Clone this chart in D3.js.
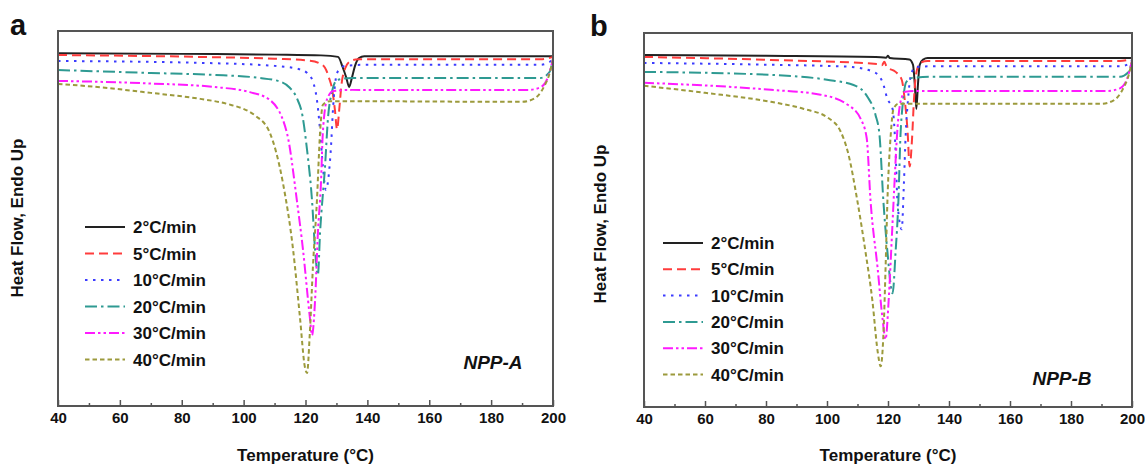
<!DOCTYPE html>
<html>
<head>
<meta charset="utf-8">
<script src="https://cdn.jsdelivr.net/npm/d3@7/dist/d3.min.js"></script>
<style>
body { margin: 0; background: #fff; }
text { font-family: "Liberation Sans", Arial, sans-serif; font-weight: bold; fill: #111; }
</style>
</head>
<body>
<svg id="chart" width="1145" height="465"></svg>
<script>
// ticks and labels
var majorTicks = [40, 60, 80, 100, 120, 140, 160, 180, 200];
var minorTicks = [50, 70, 90, 110, 130, 150, 170, 190];
var rateLabels = ["2", "5", "10", "20", "30", "40"];

// NPP-A, [temperature C, heat flow a.u.]
var a2 = [[40,94.1],[80,93.9],[110,93.7],[125,93.5],[130.5,93.1],[132,90.4],[133.2,87.5],[134.1,85.1],[135,87.5],[136,90.7],[137.3,92.8],[139,93.3],[200,93.3]];
var a5 = [[40,93.6],[85,93.1],[110,92.6],[121.4,92.1],[124.5,91.4],[126.3,90.2],[127.6,87.5],[128.6,84.5],[129.5,79],[130.2,73.8],[130.9,79],[131.6,85.5],[132.8,90.0],[134.4,91.9],[137,92.5],[196,92.5],[200,93.1]];
var a10 = [[40,92.0],[86,91.5],[110,90.7],[118,89.8],[120.5,88.8],[122.4,86.5],[123.7,81.6],[124.7,73.6],[125.6,64.0],[126.6,57.6],[127.5,61.5],[128.3,70.0],[128.8,78.0],[129.5,85.5],[130.5,89.3],[132.8,90.7],[140,91.0],[196,91.0],[199,91.8],[200,92.8]];
var a20 = [[40,89.6],[70,88.8],[90,88.3],[105,87.5],[111.8,86.5],[115,84.8],[117.2,82.1],[119,77.5],[120.5,68.3],[122.1,54.9],[123.1,41.6],[124,34.9],[124.7,46.1],[126.3,63.7],[127.3,77.1],[128.5,83.5],[130.2,86.9],[135,87.5],[196,87.5],[198.8,89.0],[200,92.5]];
var a30 = [[40,86.7],[70,86.0],[90,85.1],[102,83.7],[108.5,81.6],[114,72.8],[117.2,54.9],[119.2,41.6],[121.4,23.7],[122.1,18.9],[123.1,28.3],[124,46.1],[125,59.5],[125.6,72.8],[127,81.9],[129,84.0],[135,84.3],[192,84.3],[196,85.0],[198.5,88.0],[200,92.5]];
var a40 = [[40,85.9],[53.6,85.0],[70,83.5],[86,81.9],[95,80.5],[102,78.4],[104,77.3],[108.5,72.8],[112.7,59.5],[116,41.6],[118.2,23.7],[119.8,10.4],[120.5,8.8],[121.4,19.5],[122.4,37.1],[123.7,54.9],[124.7,72.8],[125.6,80.3],[127.9,81.3],[190,81.1],[194,82.0],[197,85.0],[199,89.0],[200,92.5]];

// NPP-B
var b2 = [[40,94.1],[80,93.9],[116,93.6],[119.4,93.4],[120,93.9],[120.6,93.3],[127,92.9],[128.2,91.5],[128.8,86.0],[129.3,79.7],[129.8,86.0],[130.4,91.5],[131.5,92.9],[133,93.3],[200,93.3]];
var b5 = [[40,93.6],[81.6,92.8],[116.6,91.7],[118,91.4],[118.8,92.3],[119.6,90.9],[122.5,89.6],[124.5,87.5],[125.5,82],[126.4,74],[127.1,64.3],[127.9,72.0],[128.5,82.0],[129.2,89.0],[130.5,92.0],[133,92.5],[196,92.5],[200,93.1]];
var b10 = [[40,92.0],[81.6,91.5],[106.8,91.0],[115.3,89.6],[118.2,86.9],[119.8,82.4],[121.5,79.7],[122.5,68.3],[123.1,54.9],[124.5,47.5],[125.2,59.5],[125.8,72.8],[126.5,81.6],[127.4,88.3],[129,90.9],[135,91.1],[196,91.1],[199,91.8],[200,92.8]];
var b20 = [[40,89.6],[81.6,88.8],[100,87.5],[108.7,86.1],[113.3,82.9],[115.9,78.1],[117.2,72.8],[118.5,54.9],[119.8,41.6],[121.5,30.4],[122.5,41.6],[123.4,54.9],[124.1,72.8],[124.8,80.8],[126,86.9],[128,88.0],[135,88.3],[196,88.3],[198.8,89.5],[200,92.5]];
var b30 = [[40,86.7],[81.6,84.8],[97.9,83.5],[106.8,80.8],[111,77.1],[113,72.0],[114.3,54.9],[116.6,37.1],[118.2,23.7],[119.2,18.1],[120.2,28.3],[121.3,46.1],[122.1,59.5],[123.1,74.4],[124.1,81.6],[125.7,84.3],[130,84.5],[192,84.5],[196,85.2],[198.5,88.0],[200,92.5]];
var b40 = [[40,85.9],[60,84.0],[81.6,81.6],[92.4,79.7],[100.2,77.4],[104.5,73.6],[106.8,68.3],[110,54.9],[112.6,41.6],[114.9,28.3],[116.6,14.9],[117.6,10.9],[118.5,19.5],[119.2,37.1],[119.8,54.9],[120.9,72.8],[121.8,79.7],[123.4,81.1],[190,81.1],[194,82.0],[197,85.0],[199,89.0],[200,92.5]];

// line looks, same order as rateLabels
var lineStyles = [
  {color: "#222222", dash: null},
  {color: "#ff3c3c", dash: "9,5"},
  {color: "#3c3cff", dash: "2.5,5.5"},
  {color: "#2e9a92", dash: "12,4,2.5,4"},
  {color: "#ff1aff", dash: "10,3,2.5,3,2.5,3"},
  {color: "#9c9a3c", dash: "4.5,3"}
];

var panels = [
  {letter: "a", name: "NPP-A", series: [a2, a5, a10, a20, a30, a40],
   left: 58, right: 553, top: 31, bottom: 406,
   letterX: 10, letterY: 35, yTitleX: 23, yTitleY: 218,
   legX: 85, legY: 227, legStep: 26.5, nameX: 493, nameY: 369},
  {letter: "b", name: "NPP-B", series: [b2, b5, b10, b20, b30, b40],
   left: 644, right: 1132, top: 33, bottom: 407,
   letterX: 590, letterY: 36, yTitleX: 606, yTitleY: 224,
   legX: 663, legY: 243, legStep: 26.3, nameX: 1062, nameY: 385}
];

var svg = d3.select("#chart");

var drawPanel = function(p, i)
{
  var xScale = d3.scaleLinear().domain([40, 200]).range([p.left, p.right]);
  var yScale = d3.scaleLinear().domain([0, 100]).range([p.bottom, p.top]);

  var g = svg.append("g").classed("panel-" + p.letter, true);

  g.append("clipPath").attr("id", "clip" + i)
    .append("rect")
    .attr("x", p.left).attr("y", p.top)
    .attr("width", p.right - p.left).attr("height", p.bottom - p.top);

  var lineDrawer = d3.line()
    .x(function(d){ return xScale(d[0]); })
    .y(function(d){ return yScale(d[1]); })
    .curve(d3.curveMonotoneX);

  g.append("g").attr("clip-path", "url(#clip" + i + ")")
    .selectAll("path")
    .data(p.series)
    .enter()
    .append("path")
    .attr("d", lineDrawer)
    .attr("fill", "none")
    .attr("stroke", function(d, k){ return lineStyles[k].color; })
    .attr("stroke-width", 2)
    .attr("stroke-dasharray", function(d, k){ return lineStyles[k].dash; });

  // frame
  g.append("rect")
    .attr("x", p.left).attr("y", p.top)
    .attr("width", p.right - p.left).attr("height", p.bottom - p.top)
    .attr("fill", "none")
    .style("stroke", "#555")
    .style("stroke-width", 2);

  var majorAxis = d3.axisBottom(xScale).tickValues(majorTicks)
    .tickSizeInner(-6).tickSizeOuter(0).tickPadding(6);
  var minorAxis = d3.axisBottom(xScale).tickValues(minorTicks)
    .tickSizeInner(-3).tickSizeOuter(0).tickFormat("");

  [majorAxis, minorAxis].forEach(function(ax){
    var a = g.append("g")
      .attr("transform", "translate(0," + p.bottom + ")")
      .call(ax);
    a.select(".domain").remove();
    a.selectAll("line").attr("stroke", "#555").attr("stroke-width", 1.5);
    a.selectAll("text")
      .attr("font-family", "Liberation Sans, Arial, sans-serif")
      .attr("font-weight", "bold")
      .attr("font-size", 15)
      .attr("fill", "#111");
  });

  g.append("text")
    .text("Temperature (\u00B0C)")
    .attr("x", (p.left + p.right) / 2)
    .attr("y", 461)
    .attr("text-anchor", "middle")
    .attr("font-size", 17);

  g.append("text")
    .text("Heat Flow, Endo Up")
    .attr("transform", "translate(" + p.yTitleX + "," + p.yTitleY + ") rotate(-90)")
    .attr("text-anchor", "middle")
    .attr("font-size", 17);

  g.append("text")
    .text(p.letter)
    .attr("x", p.letterX).attr("y", p.letterY)
    .attr("font-size", 29);

  g.append("text")
    .text(p.name)
    .attr("x", p.nameX).attr("y", p.nameY)
    .attr("text-anchor", "middle")
    .attr("font-style", "italic")
    .attr("font-size", 19);

  // legend
  var leg = g.selectAll(".legend-item")
    .data(rateLabels)
    .enter()
    .append("g")
    .classed("legend-item", true)
    .attr("transform", function(d, k){ return "translate(" + p.legX + "," + (p.legY + k * p.legStep) + ")"; });

  leg.append("line")
    .attr("x1", 0).attr("x2", 40)
    .attr("y1", 0).attr("y2", 0)
    .attr("stroke", function(d, k){ return lineStyles[k].color; })
    .attr("stroke-width", 2)
    .attr("stroke-dasharray", function(d, k){ return lineStyles[k].dash; });

  leg.append("text")
    .text(function(d){ return d + "\u00B0C/min"; })
    .attr("x", 48)
    .attr("y", 6)
    .attr("font-size", 17);
};

panels.forEach(drawPanel);
</script>
</body>
</html>
